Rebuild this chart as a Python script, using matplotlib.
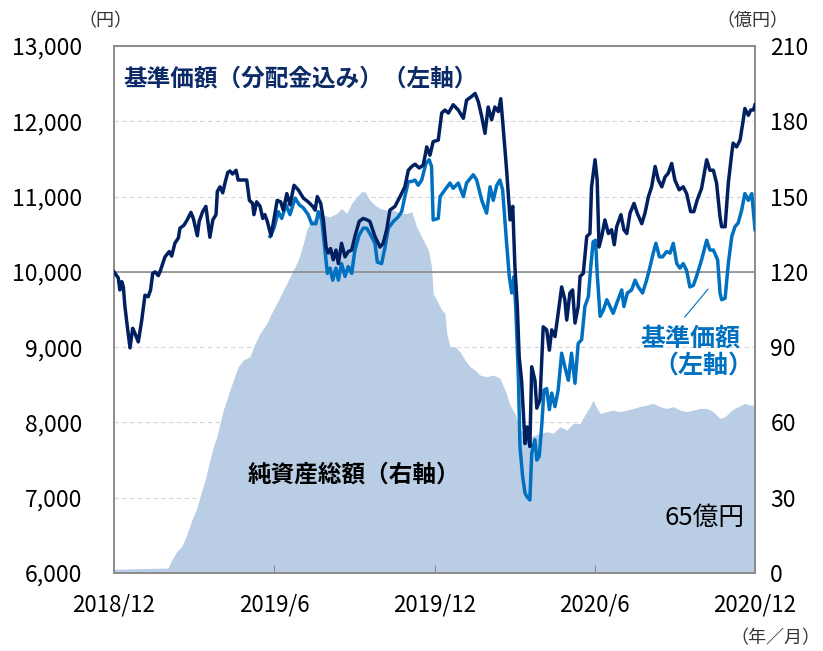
import numpy as np
import matplotlib
matplotlib.use("Agg")
import matplotlib.pyplot as plt

plt.rcParams['font.family'] = ['Noto Sans CJK JP', 'DejaVu Sans']

# months since 2018/12
nav_tr_x = [0.00, 0.16, 0.22, 0.29, 0.35, 0.41, 0.50, 0.60, 0.70, 0.79, 0.91, 1.04, 1.16, 1.28, 1.37,
            1.45, 1.54, 1.66, 1.75, 1.91, 2.07, 2.16, 2.28, 2.41, 2.47, 2.62, 2.74, 2.88, 2.97, 3.12,
            3.19, 3.32, 3.44, 3.59, 3.70, 3.82, 3.87, 3.97, 4.07, 4.17, 4.26, 4.34, 4.44, 4.57, 4.65,
            4.97, 5.07, 5.19, 5.24, 5.34, 5.47, 5.57, 5.65, 5.74, 5.88, 5.96, 6.11, 6.24, 6.34, 6.47,
            6.59, 6.74, 6.90, 7.09, 7.27, 7.44, 7.53, 7.61, 7.74, 7.84, 7.94, 8.02, 8.11, 8.21, 8.31,
            8.40, 8.52, 8.65, 8.77, 8.90, 9.02, 9.18, 9.33, 9.48, 9.58, 9.77, 9.96, 10.08, 10.21, 10.33,
            10.52, 10.71, 10.89, 11.02, 11.15, 11.27, 11.43, 11.58, 11.71, 11.83, 11.95, 12.14, 12.27,
            12.39, 12.52, 12.70, 12.89, 13.08, 13.20, 13.39, 13.52, 13.64, 13.77, 13.89, 14.01, 14.14,
            14.26, 14.39, 14.48, 14.58, 14.70, 14.83, 14.93, 15.01, 15.10, 15.17, 15.26, 15.39, 15.47,
            15.57, 15.64, 15.76, 15.83, 15.95, 16.07, 16.20, 16.30, 16.39, 16.51, 16.63, 16.76, 16.88,
            16.95, 17.07, 17.17, 17.26, 17.38, 17.45, 17.57, 17.70, 17.82, 17.88, 18.01, 18.09, 18.16,
            18.26, 18.38, 18.51, 18.63, 18.73, 18.82, 18.98, 19.09, 19.20, 19.32, 19.47, 19.59, 19.76,
            19.88, 20.01, 20.13, 20.26, 20.38, 20.51, 20.63, 20.75, 20.88, 21.00, 21.16, 21.31, 21.44,
            21.59, 21.71, 21.84, 22.00, 22.19, 22.31, 22.44, 22.56, 22.69, 22.75, 22.88, 23.00, 23.13,
            23.18, 23.31, 23.44, 23.56, 23.62, 23.75, 23.84, 23.94, 24.00]
nav_tr = [10000, 9920, 9760, 9870, 9800, 9540, 9270, 8990, 9250, 9180, 9070, 9360, 9690, 9670, 9760,
          9980, 10000, 9950, 10030, 10200, 10270, 10210, 10380, 10450, 10580, 10620, 10690, 10790, 10710, 10480,
          10670, 10800, 10870, 10460, 10690, 10760, 11070, 11130, 11050, 11200, 11320, 11340, 11300, 11350, 11220,
          11220, 10950, 10910, 10760, 10930, 10870, 10710, 10760, 10670, 10480, 10640, 10950, 10930, 10820, 11040,
          10890, 11150, 11090, 10980, 10930, 10870, 10820, 11000, 10910, 10690, 10330, 10250, 10310, 10160, 10290,
          10110, 10380, 10200, 10270, 10290, 10470, 10670, 10710, 10690, 10670, 10470, 10330, 10380, 10560, 10820,
          10870, 11000, 11130, 11350, 11400, 11430, 11380, 11420, 11660, 11550, 11730, 11750, 12110,
          12150, 12110, 12220, 12150, 12040, 12280, 12330, 12370, 12260, 12060, 11840, 12190, 12020,
          12190, 12130, 12300, 11880, 11350, 10690, 10870, 10070, 9540, 8870, 8560, 7720, 7940,
          7680, 8740, 8560, 8190, 8300, 9270, 9230, 8960, 9230, 9140, 9450, 9800, 9630,
          9360, 9720, 9760, 9320, 9540, 9940, 9980, 10470, 10510, 11130, 11490, 11220, 10330,
          10470, 10690, 10510, 10560, 10360, 10600, 10760, 10560, 10510, 10780, 10910, 10780, 10640,
          10780, 11000, 11130, 11400, 11220, 11130, 11260, 11310, 11440, 11220, 11090, 11130, 11040,
          10800, 10800, 10960, 11110, 11490, 11350, 11350, 11180, 10730, 10600, 10600, 11180, 11580,
          11710, 11660, 11750, 12020, 12170, 12080, 12150, 12150, 12220]

nav_x = [5.84, 5.99, 6.15, 6.28, 6.44, 6.59, 6.78, 6.94, 7.09, 7.27, 7.40, 7.56, 7.65, 7.78, 7.90,
         7.99, 8.09, 8.19, 8.31, 8.40, 8.52, 8.65, 8.77, 8.90, 9.02, 9.18, 9.33, 9.46, 9.58, 9.77,
         9.86, 10.02, 10.15, 10.27, 10.46, 10.64, 10.77, 10.89, 11.02, 11.15, 11.27, 11.39, 11.52, 11.68,
         11.80, 11.89, 11.95, 12.14, 12.21, 12.39, 12.58, 12.70, 12.89, 13.08, 13.20, 13.45, 13.58, 13.77,
         13.95, 14.08, 14.20, 14.33, 14.45, 14.55, 14.70, 14.80, 14.89, 14.98, 15.05, 15.14, 15.20, 15.30,
         15.39, 15.47, 15.57, 15.64, 15.76, 15.83, 15.92, 16.01, 16.10, 16.20, 16.30, 16.39, 16.51, 16.63,
         16.76, 16.88, 17.01, 17.13, 17.26, 17.38, 17.51, 17.63, 17.76, 17.85, 17.94, 18.03, 18.09, 18.20,
         18.32, 18.45, 18.57, 18.69, 18.82, 19.01, 19.09, 19.22, 19.38, 19.51, 19.63, 19.79, 19.94, 20.07,
         20.19, 20.29, 20.42, 20.54, 20.69, 20.82, 20.94, 21.07, 21.19, 21.31, 21.44, 21.56, 21.69, 21.81,
         22.00, 22.19, 22.31, 22.44, 22.60, 22.69, 22.75, 22.88, 23.00, 23.13, 23.25, 23.37, 23.50, 23.62,
         23.75, 23.88, 24.00]
nav = [10470, 10580, 10800, 10710, 10890, 10760, 10980, 10890, 10850, 10760, 10640, 10640, 10800, 10690, 10290,
       9980, 10050, 9890, 10050, 9890, 10110, 9940, 10070, 9980, 10290, 10490, 10580, 10580, 10510, 10380,
       10130, 10110, 10330, 10580, 10670, 10730, 10800, 11000, 11200, 11200, 11220, 11150, 11220, 11440,
       11490, 11400, 10690, 10710, 11000, 11090, 11180, 11110, 11180, 11000, 11180, 11290, 11220, 10950,
       10780, 11130, 10950, 11150, 11220, 11090, 10380, 9940, 9720, 9940, 9450, 8610, 7680, 7280,
       7060, 7010, 6970, 7590, 7770, 7500, 7550, 7940, 8430, 8450, 8170, 8390, 8210, 8430,
       8920, 8740, 8560, 8920, 8520, 9050, 9100, 9540, 9670, 10070, 10400, 10420, 9980, 9410,
       9490, 9630, 9540, 9450, 9580, 9760, 9540, 9720, 9760, 9890, 9800, 9720, 9890, 10070,
       10250, 10380, 10200, 10200, 10270, 10250, 10380, 10110, 10050, 10110, 10020, 9800, 9820, 9940,
       10160, 10420, 10290, 10290, 10160, 9720, 9630, 9650, 10110, 10470, 10600, 10650, 10820, 11040,
       10950, 11040, 10560]

aum_x = [0.00, 2.02, 2.16, 2.35, 2.53, 2.72, 2.91, 3.10, 3.22, 3.41, 3.59, 3.72, 3.85, 3.97, 4.09,
         4.22, 4.34, 4.47, 4.65, 4.84, 5.09, 5.28, 5.47, 5.72, 5.90, 6.09, 6.34, 6.53, 6.71, 6.90,
         7.09, 7.21, 7.40, 7.59, 7.84, 8.09, 8.34, 8.52, 8.71, 8.90, 9.09, 9.27, 9.40, 9.58, 9.77,
         9.96, 10.21, 10.46, 10.71, 10.96, 11.15, 11.33, 11.58, 11.77, 11.89, 11.95, 12.08, 12.27, 12.39,
         12.46, 12.58, 12.77, 12.95, 13.14, 13.33, 13.52, 13.70, 13.95, 14.20, 14.45, 14.64, 14.83, 15.01,
         15.20, 15.57, 16.20, 16.45, 16.70, 16.95, 17.20, 17.45, 17.63, 17.82, 17.94, 18.05, 18.20, 18.45,
         18.69, 18.94, 19.20, 19.44, 19.69, 19.94, 20.19, 20.44, 20.69, 20.94, 21.19, 21.44, 21.69, 21.94,
         22.19, 22.44, 22.69, 22.88, 23.13, 23.37, 23.62, 23.81, 24.00]
aum = [1.5, 2.0, 5.2, 8.5, 10.5, 15.1, 21.0, 25.8, 30.4, 37.0, 45.0, 50.3, 54.3, 59.6, 64.9,
       68.9, 72.9, 76.9, 82.2, 84.9, 86.2, 91.5, 95.5, 99.5, 103.5, 107.4, 112.7, 116.7, 120.7, 124.7,
       131.3, 136.6, 140.6, 141.9, 142.6, 141.9, 143.3, 145.3, 143.3, 147.3, 149.9, 151.9, 151.9, 148.6, 146.6,
       145.3, 144.6, 144.6, 143.3, 143.3, 144.0, 138.0, 132.7, 128.7, 122.0, 111.4, 108.8, 104.8, 103.5,
       95.5, 90.2, 90.2, 88.2, 84.9, 82.2, 80.9, 78.9, 78.2, 78.9, 77.6, 72.9, 66.9, 63.6,
       57.0, 54.3, 56.3, 55.7, 58.3, 57.0, 59.6, 59.6, 63.0, 66.3, 68.9, 66.3, 63.6, 64.3,
       64.9, 64.3, 64.9, 65.6, 66.3, 66.9, 67.6, 66.3, 65.6, 66.3, 64.9, 64.3, 64.9, 65.6,
       65.6, 64.3, 61.6, 62.3, 64.9, 66.3, 67.6, 66.9, 66.9]

xtick_pos = [0, 6, 12, 18, 24]
xtick_labels = ['2018/12', '2019/6', '2019/12', '2020/6', '2020/12']
left_ticks = [6000, 7000, 8000, 9000, 10000, 11000, 12000, 13000]
right_ticks = [0, 30, 60, 90, 120, 150, 180, 210]

navy = '#002060'
blue = '#0070c0'
area_c = '#b9cde5'
frame = '#8c8c8c'

fig = plt.figure(figsize=(8.23, 6.51), dpi=100)
ax1 = fig.add_axes([0.1385, 0.1198, 0.7789, 0.8095])
ax2 = ax1.twinx()
ax1.set_zorder(ax2.get_zorder() + 1)
ax1.patch.set_visible(False)

# net assets (right axis)
ax2.fill_between(aum_x, 0, aum, color=area_c, linewidth=0)
ax2.set_ylim(0, 210)
ax2.set_yticks(right_ticks)
ax2.set_yticklabels([str(v) for v in right_ticks])
ax2.set_axisbelow(True)
ax2.yaxis.grid(True, linestyle=(0, (4, 3)), color='#d6d6d6', linewidth=0.8)
ax2.tick_params(axis='y', length=0, pad=11, labelsize=16.5)

# NAV lines (left axis)
ax1.axhline(10000, color=frame, linewidth=1.2, zorder=1)
ax1.plot(nav_x, nav, color=blue, linewidth=2.5, zorder=3)
ax1.plot(nav_tr_x, nav_tr, color=navy, linewidth=2.5, zorder=4)
ax1.set_ylim(6000, 13000)
ax1.set_xlim(0, 24)
ax1.set_yticks(left_ticks)
ax1.set_yticklabels([f'{v:,}' for v in left_ticks])
ax1.tick_params(axis='y', length=0, pad=23, labelsize=16.5)
ax1.set_xticks(xtick_pos)
ax1.set_xticklabels(xtick_labels)
ax1.tick_params(axis='x', direction='in', length=6, color=frame, pad=15, labelsize=16)
ax2.tick_params(axis='x', length=0)

for ax in (ax1, ax2):
    for s in ax.spines.values():
        s.set_color(frame)
        s.set_linewidth(1.2)

ax1.annotate('', xy=(22.31, 9800), xytext=(21.3, 9370),
             arrowprops=dict(arrowstyle='-', color=blue, lw=0.8))

fig.text(123 / 823, 1 - 79 / 651, '基準価額（分配金込み）（左軸）', fontsize=17, weight='bold',
         color='#0b2a66', va='center', ha='left')
fig.text(248 / 823, 1 - 475 / 651, '純資産総額（右軸）', fontsize=17, weight='bold',
         color='black', va='center', ha='left')
fig.text(690 / 823, 1 - 339 / 651, '基準価額', fontsize=18, weight='bold',
         color=blue, va='center', ha='center')
fig.text(703 / 823, 1 - 366 / 651, '（左軸）', fontsize=18, weight='bold',
         color=blue, va='center', ha='center')
fig.text(745 / 823, 1 - 518 / 651, '65億円', fontsize=18.5, color='black', va='center', ha='right')
fig.text(105 / 823, 1 - 21 / 651, '（円）', fontsize=13, color='#333333', va='center', ha='center')
fig.text(752 / 823, 1 - 21 / 651, '（億円）', fontsize=13, color='#333333', va='center', ha='center')
fig.text(775 / 823, 1 - 638 / 651, '（年／月）', fontsize=13, color='#333333', va='center', ha='center')

fig.savefig('out.png', dpi=100)
